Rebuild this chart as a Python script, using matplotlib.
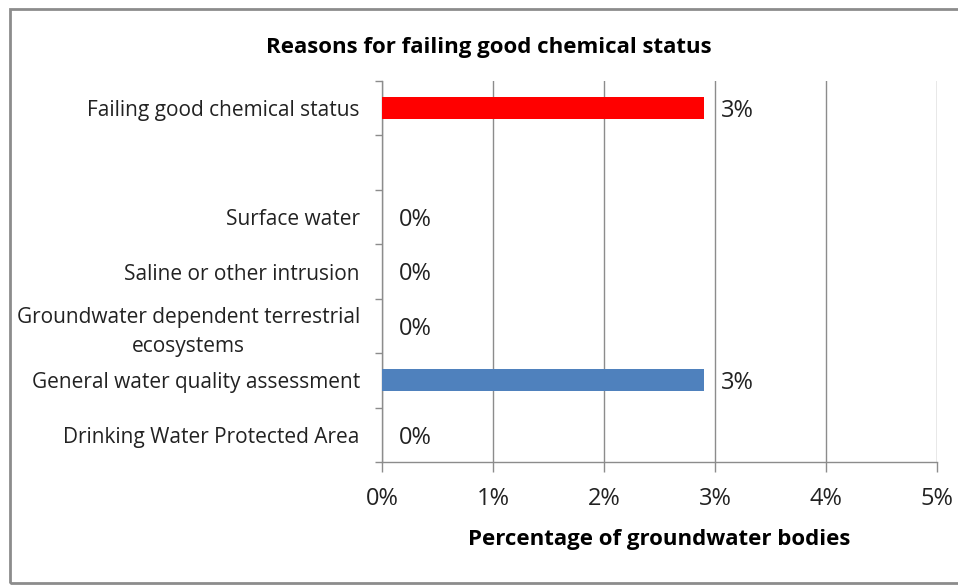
import matplotlib.pyplot as plt
from matplotlib.patches import Rectangle
from matplotlib.ticker import FixedLocator

# ---- data (top to bottom) ----
CATEGORIES = [
    "Failing good chemical status",
    "",
    "Surface water",
    "Saline or other intrusion",
    "Groundwater dependent terrestrial\necosystems",
    "General water quality assessment",
    "Drinking Water Protected Area",
]
VALUES = [2.9, None, 0, 0, 0, 2.9, 0]
BAR_COLORS = ["#FF0000", None, "#4F81BD", "#4F81BD", "#4F81BD", "#4F81BD", "#4F81BD"]
X_TICKS = [0, 1, 2, 3, 4, 5]

plt.rcParams["font.family"] = ["Open Sans", "DejaVu Sans"]
GRID_GRAY = "#8C8C8C"
TEXT = "#222222"

fig = plt.figure(figsize=(9.58, 5.85), dpi=100)
ax = fig.add_axes([382 / 958, 1 - 462 / 585, (937 - 382) / 958, (462 - 81) / 585])

n = len(CATEGORIES)
ypos = list(range(n - 1, -1, -1))  # first category on top

for y, v, c in zip(ypos, VALUES, BAR_COLORS):
    if v is None:
        continue
    ax.barh(y, v, height=0.4, color=c, zorder=3)
    ax.annotate(f"{v:.0f}%", xy=(v, y), xytext=(17, -3), textcoords="offset pixels",
                ha="left", va="center", fontsize=17, color=TEXT)

ax.set_xlim(0, 5)
ax.set_ylim(-0.5, n - 0.5)

ax.set_xticks(X_TICKS)
ax.set_xticklabels([f"{t}%" for t in X_TICKS], fontsize=17, color=TEXT)
ax.set_yticks(ypos)
ax.set_yticklabels(CATEGORIES, fontsize=15, color=TEXT, multialignment="center",
                   linespacing=1.5)

# category boundaries get the small tick marks
ax.yaxis.set_minor_locator(FixedLocator([i - 0.5 for i in range(n + 1)]))
ax.tick_params(axis="y", which="major", length=0, pad=16)
ax.tick_params(axis="y", which="minor", length=5, width=1, color=GRID_GRAY, direction="out")
ax.tick_params(axis="x", which="major", length=7, width=1, color=GRID_GRAY, pad=11)

ax.grid(axis="x", color=GRID_GRAY, linewidth=1, zorder=0)
ax.set_axisbelow(True)

for side in ["top", "right"]:
    ax.spines[side].set_visible(False)
for side in ["left", "bottom"]:
    ax.spines[side].set_color(GRID_GRAY)
    ax.spines[side].set_linewidth(1)

ax.set_xlabel("Percentage of groundwater bodies", fontsize=16, fontweight="bold",
              color="black", labelpad=13)
fig.text(489 / 958, 1 - 48 / 585, "Reasons for failing good chemical status",
         ha="center", va="center", fontsize=16, fontweight="bold", color="black")

# outer frame of the chart area (runs past the right edge)
fig.patches.append(Rectangle((10 / 958, 1 - 583 / 585), 1.0, (583 - 9) / 585,
                             transform=fig.transFigure, fill=False,
                             edgecolor="#8C8C8C", linewidth=2))

fig.savefig("out.png", dpi=100)
